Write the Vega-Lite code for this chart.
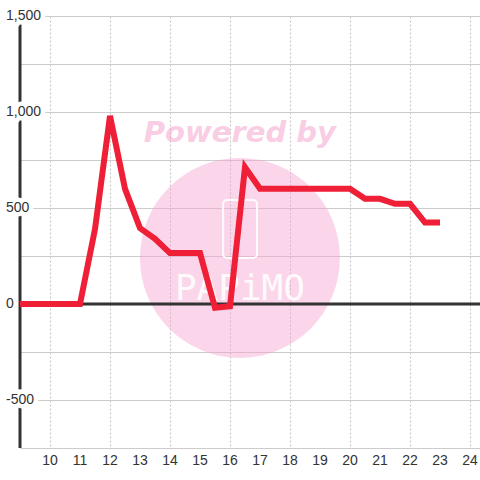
{
  "$schema": "https://vega.github.io/schema/vega-lite/v6.json",
  "width": 460,
  "height": 432,
  "autosize": {"type": "none"},
  "padding": {"left": 20, "top": 16, "right": 0, "bottom": 32},
  "background": "#ffffff",
  "config": {"view": {"stroke": null}, "font": "Liberation Sans"},
  "datasets": {
    "series": [
      {"x": 9, "y": 0}, {"x": 9.5, "y": 0}, {"x": 10, "y": 0}, {"x": 10.5, "y": 0}, {"x": 11, "y": 0},
      {"x": 11.5, "y": 390}, {"x": 12, "y": 980}, {"x": 12.5, "y": 600}, {"x": 13, "y": 395},
      {"x": 13.5, "y": 340}, {"x": 14, "y": 265}, {"x": 14.5, "y": 265}, {"x": 15, "y": 265},
      {"x": 15.5, "y": -20}, {"x": 16, "y": -12}, {"x": 16.5, "y": 712}, {"x": 17, "y": 600},
      {"x": 17.5, "y": 600}, {"x": 18, "y": 600}, {"x": 18.5, "y": 600}, {"x": 19, "y": 600},
      {"x": 19.5, "y": 600}, {"x": 20, "y": 600}, {"x": 20.5, "y": 548}, {"x": 21, "y": 548},
      {"x": 21.5, "y": 522}, {"x": 22, "y": 522}, {"x": 22.5, "y": 424}, {"x": 23, "y": 424}
    ],
    "ylabels": [
      {"v": -500, "label": "-500"}, {"v": 0, "label": "0"}, {"v": 500, "label": "500"},
      {"v": 1000, "label": "1,000"}, {"v": 1500, "label": "1,500"}
    ],
    "xlabels": [
      {"v": 10, "label": "10"}, {"v": 11, "label": "11"}, {"v": 12, "label": "12"}, {"v": 13, "label": "13"},
      {"v": 14, "label": "14"}, {"v": 15, "label": "15"}, {"v": 16, "label": "16"}, {"v": 17, "label": "17"},
      {"v": 18, "label": "18"}, {"v": 19, "label": "19"}, {"v": 20, "label": "20"}, {"v": 21, "label": "21"},
      {"v": 22, "label": "22"}, {"v": 23, "label": "23"}, {"v": 24, "label": "24"}
    ],
    "watermark": [{"x": 16.33, "y": 240, "ty": 890, "text": "Powered by", "logo": "PAPiMO", "ly": 80, "rx0": 15.77, "rx1": 16.9, "ry0": 240, "ry1": 542}],
    "refs": [{"x0": 9, "y0": 0, "ylo": -750, "yhi": 1500, "xlo": 9, "xhi": 24.333}]
  },
  "layer": [
    {
      "data": {"name": "watermark"},
      "mark": {"type": "point", "shape": "circle", "filled": true, "size": 40000, "color": "#f7a3d1", "opacity": 0.45},
      "encoding": {
        "x": {
          "field": "x", "type": "quantitative",
          "scale": {"domain": [9, 24.333], "nice": false, "zero": false},
          "axis": {
            "values": [10, 11, 12, 13, 14, 15, 16, 17, 18, 19, 20, 21, 22, 23, 24],
            "grid": true, "gridColor": "#c4c4c4", "gridDash": [2, 2], "gridWidth": 1,
            "labels": false, "ticks": false, "domain": false, "title": null
          }
        },
        "y": {
          "field": "y", "type": "quantitative",
          "scale": {"domain": [-750, 1500], "nice": false, "zero": false},
          "axis": {
            "values": [-750, -500, -250, 0, 250, 500, 750, 1000, 1250, 1500],
            "grid": true, "gridColor": "#cccccc", "gridWidth": 1,
            "labels": false, "ticks": false, "domain": false, "title": null
          }
        }
      }
    },
    {
      "data": {"name": "watermark"},
      "mark": {"type": "rect", "filled": false, "stroke": "#ffffff", "strokeWidth": 2, "cornerRadius": 4, "opacity": 0.9},
      "encoding": {
        "x": {"field": "rx0", "type": "quantitative"},
        "x2": {"field": "rx1"},
        "y": {"field": "ry0", "type": "quantitative"},
        "y2": {"field": "ry1"}
      }
    },
    {
      "data": {"name": "watermark"},
      "mark": {"type": "text", "font": "DejaVu Sans Mono", "fontSize": 36, "color": "#ffffff", "opacity": 0.9, "align": "center", "baseline": "middle"},
      "encoding": {
        "x": {"field": "x", "type": "quantitative"},
        "y": {"field": "ly", "type": "quantitative"},
        "text": {"field": "logo"}
      }
    },
    {
      "data": {"name": "watermark"},
      "mark": {"type": "text", "font": "DejaVu Sans", "fontSize": 29, "fontWeight": "bold", "fontStyle": "italic", "color": "#f59cc9", "opacity": 0.5, "align": "center", "baseline": "middle"},
      "encoding": {
        "x": {"field": "x", "type": "quantitative"},
        "y": {"field": "ty", "type": "quantitative"},
        "text": {"field": "text"}
      }
    },
    {
      "data": {"name": "refs"},
      "mark": {"type": "rule", "color": "#333333", "strokeWidth": 3},
      "encoding": {
        "x": {"field": "xlo", "type": "quantitative"},
        "x2": {"field": "xhi"},
        "y": {"field": "y0", "type": "quantitative"}
      }
    },
    {
      "data": {"name": "refs"},
      "mark": {"type": "rule", "color": "#333333", "strokeWidth": 3},
      "encoding": {
        "x": {"field": "x0", "type": "quantitative"},
        "y": {"field": "ylo", "type": "quantitative"},
        "y2": {"field": "yhi"}
      }
    },
    {
      "data": {"name": "ylabels"},
      "mark": {"type": "text", "align": "left", "baseline": "middle", "dx": -14, "fontSize": 14, "font": "Liberation Sans", "fill": "#ffffff", "stroke": "#ffffff", "strokeWidth": 9},
      "encoding": {
        "x": {"datum": 9, "type": "quantitative"},
        "y": {"field": "v", "type": "quantitative"},
        "text": {"field": "label"}
      }
    },
    {
      "data": {"name": "ylabels"},
      "mark": {"type": "text", "align": "left", "baseline": "middle", "dx": -14, "fontSize": 14, "font": "Liberation Sans", "color": "#333333"},
      "encoding": {
        "x": {"datum": 9, "type": "quantitative"},
        "y": {"field": "v", "type": "quantitative"},
        "text": {"field": "label"}
      }
    },
    {
      "data": {"name": "xlabels"},
      "mark": {"type": "text", "align": "center", "baseline": "middle", "dy": 13, "fontSize": 14, "font": "Liberation Sans", "color": "#333333"},
      "encoding": {
        "x": {"field": "v", "type": "quantitative"},
        "y": {"datum": -750, "type": "quantitative"},
        "text": {"field": "label"}
      }
    },
    {
      "data": {"name": "series"},
      "mark": {"type": "line", "color": "#ee1f36", "strokeWidth": 6, "strokeMiterLimit": 4},
      "encoding": {
        "x": {"field": "x", "type": "quantitative"},
        "y": {"field": "y", "type": "quantitative"}
      }
    }
  ]
}
